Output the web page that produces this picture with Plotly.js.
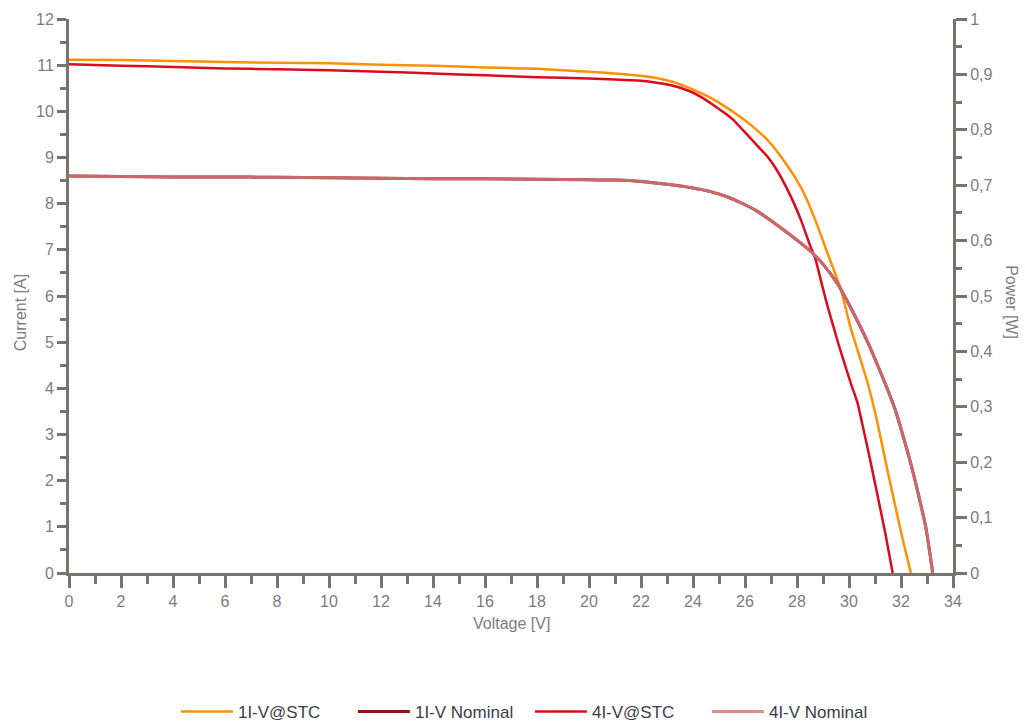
<!DOCTYPE html>
<html>
<head>
<meta charset="utf-8">
<script src="https://cdn.plot.ly/plotly-3.0.1.min.js"></script>
<style>
  html, body { margin: 0; padding: 0; background: #fff; }
  #chart { width: 1025px; height: 722px; }
</style>
</head>
<body>
<div id="chart"></div>
<script>
// I-V characteristics: voltage [V] vs current [A]
const stc1Voltage = [0, 2, 4, 6, 8, 10, 12, 14, 16, 18, 20, 21, 22, 22.6, 23.2, 23.75, 24.25, 24.75, 25.3, 25.84, 26.4, 26.86, 27.25, 27.63, 28.0, 28.27, 28.55, 28.79, 29.1, 29.3, 29.69, 30.07, 30.4, 30.72, 31.04, 31.42, 31.87, 32.1, 32.38];
const stc1Current = [11.12, 11.11, 11.09, 11.07, 11.05, 11.04, 11.01, 10.99, 10.95, 10.92, 10.86, 10.82, 10.77, 10.72, 10.64, 10.53, 10.41, 10.27, 10.08, 9.87, 9.62, 9.38, 9.12, 8.82, 8.5, 8.22, 7.86, 7.52, 7.04, 6.74, 6.13, 5.3, 4.7, 4.11, 3.39, 2.38, 1.22, 0.65, 0];

const stc4Voltage = [0, 2, 4, 6, 8, 10, 12, 14, 16, 18, 20, 21, 22, 22.6, 23.2, 23.9, 24.4, 24.9, 25.3, 25.58, 25.96, 26.4, 26.86, 27.2, 27.51, 27.85, 28.15, 28.5, 28.7, 28.98, 29.18, 29.6, 30.07, 30.33, 30.6, 30.84, 31.16, 31.4, 31.68];
const stc4Current = [11.02, 10.99, 10.96, 10.93, 10.91, 10.89, 10.86, 10.82, 10.78, 10.74, 10.71, 10.69, 10.66, 10.62, 10.56, 10.43, 10.28, 10.09, 9.93, 9.8, 9.57, 9.3, 9.02, 8.75, 8.44, 8.05, 7.65, 7.1, 6.82, 6.2, 5.77, 4.95, 4.11, 3.68, 3.0, 2.38, 1.51, 0.85, 0];

const nominal1Voltage = [0, 2, 4, 6, 8, 10, 12, 14, 16, 18, 20, 21, 22, 23, 24, 24.68, 25.3, 25.84, 26.4, 26.86, 27.25, 27.63, 28.0, 28.5, 29.0, 29.6, 30.2, 30.72, 31.1, 31.48, 31.8, 32.13, 32.4, 32.64, 32.95, 33.22];
const nominal1Current = [8.60, 8.59, 8.58, 8.58, 8.57, 8.56, 8.55, 8.54, 8.54, 8.53, 8.52, 8.51, 8.48, 8.42, 8.34, 8.26, 8.15, 8.02, 7.86, 7.69, 7.53, 7.37, 7.21, 6.98, 6.69, 6.23, 5.6, 5.0, 4.5, 3.98, 3.5, 2.87, 2.32, 1.77, 1.0, 0];

const nominal4Voltage = [0, 2, 4, 6, 8, 10, 12, 14, 16, 18, 20, 21, 22, 23, 24, 24.68, 25.3, 25.84, 26.4, 26.86, 27.25, 27.63, 28.0, 28.5, 29.0, 29.6, 30.2, 30.72, 31.1, 31.48, 31.8, 32.13, 32.4, 32.64, 32.95, 33.22];
const nominal4Current = [8.60, 8.59, 8.58, 8.58, 8.57, 8.56, 8.55, 8.54, 8.54, 8.53, 8.52, 8.51, 8.48, 8.42, 8.34, 8.26, 8.15, 8.02, 7.86, 7.69, 7.53, 7.37, 7.21, 6.98, 6.69, 6.23, 5.6, 5.0, 4.5, 3.98, 3.5, 2.87, 2.32, 1.77, 1.0, 0];

const seriesNames = ['1I-V@STC', '1I-V Nominal', '4I-V@STC', '4I-V Nominal'];

const axisColor = '#77746c';
const tickFontColor = '#7c7c7c';
const fontFamily = 'Liberation Sans, Arial, sans-serif';

const traces = [
  { name: seriesNames[0], x: stc1Voltage, y: stc1Current, type: 'scatter', mode: 'lines',
    line: { color: '#ff9005', width: 2.5, shape: 'spline', smoothing: 0.6 } },
  { name: seriesNames[1], x: nominal1Voltage, y: nominal1Current, type: 'scatter', mode: 'lines',
    line: { color: '#8e1519', width: 3, shape: 'spline', smoothing: 0.6 } },
  { name: seriesNames[2], x: stc4Voltage, y: stc4Current, type: 'scatter', mode: 'lines',
    line: { color: '#dd0a1e', width: 2.5, shape: 'spline', smoothing: 0.4 } },
  { name: seriesNames[3], x: nominal4Voltage, y: nominal4Current, type: 'scatter', mode: 'lines',
    opacity: 0.84,
    line: { color: '#d5777a', width: 3, shape: 'spline', smoothing: 0.6 } },
  // power axis carrier (no points)
  { x: [], y: [], yaxis: 'y2', type: 'scatter', mode: 'lines', showlegend: false, hoverinfo: 'skip' }
];

const commonAxis = {
  showline: true, linewidth: 3, linecolor: axisColor,
  showgrid: false, zeroline: false, automargin: false,
  ticks: 'outside', tickwidth: 3, tickcolor: axisColor,
  tickfont: { family: fontFamily, size: 16, color: tickFontColor }
};

const layout = {
  width: 1025, height: 722,
  margin: { l: 69, r: 72, t: 19, b: 149, autoexpand: false },
  paper_bgcolor: '#ffffff', plot_bgcolor: '#ffffff',
  separators: ', ',
  font: { family: fontFamily },
  showlegend: true,
  xaxis: Object.assign({}, commonAxis, {
    range: [0, 34], tick0: 0, dtick: 2, ticklen: 12,
    minor: { dtick: 1, ticks: 'outside', ticklen: 8, tickwidth: 3, tickcolor: axisColor }
  }),
  yaxis: Object.assign({}, commonAxis, {
    range: [0, 12], tick0: 0, dtick: 1, ticklen: 9,
    minor: { dtick: 0.5, ticks: 'outside', ticklen: 6, tickwidth: 3, tickcolor: axisColor }
  }),
  yaxis2: Object.assign({}, commonAxis, {
    overlaying: 'y', side: 'right', anchor: 'x',
    range: [0, 1], tick0: 0, dtick: 0.1, ticklen: 11,
    minor: { dtick: 0.05, ticks: 'outside', ticklen: 6, tickwidth: 3, tickcolor: axisColor }
  }),
  legend: {
    orientation: 'h', xref: 'container', yref: 'container',
    x: 0.517, xanchor: 'center', y: 0.014, yanchor: 'middle',
    itemwidth: 52, entrywidth: 110, entrywidthmode: 'pixels',
    font: { family: fontFamily, size: 17, color: '#3b3b4a' },
    bgcolor: 'rgba(0,0,0,0)'
  },
  annotations: [
    { text: 'Voltage [V]', xref: 'paper', yref: 'paper', x: 0.501, y: -0.092,
      xanchor: 'center', yanchor: 'middle', showarrow: false,
      font: { family: fontFamily, size: 16, color: tickFontColor } },
    { text: 'Current [A]', xref: 'paper', yref: 'paper', x: -0.0554, y: 0.469,
      xanchor: 'center', yanchor: 'middle', showarrow: false, textangle: -90,
      font: { family: fontFamily, size: 16, color: tickFontColor } },
    { text: 'Power [W]', xref: 'paper', yref: 'paper', x: 1.0667, y: 0.489,
      xanchor: 'center', yanchor: 'middle', showarrow: false, textangle: 90,
      font: { family: fontFamily, size: 16, color: tickFontColor } }
  ]
};

Plotly.newPlot('chart', traces, layout, { displayModeBar: false, staticPlot: true });
</script>
</body>
</html>
